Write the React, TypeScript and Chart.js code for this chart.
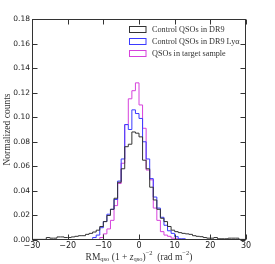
import React, { useEffect, useRef } from "react";
import { Chart, registerables } from "chart.js";

Chart.register(...registerables);

// Bin edges (rad m^-2), 1-unit bins from -30 to 30
const binEdges = [
  -30, -29, -28, -27, -26, -25, -24, -23, -22, -21, -20, -19, -18, -17, -16, -15,
  -14, -13, -12, -11, -10, -9, -8, -7, -6, -5, -4, -3, -2, -1, 0, 1, 2, 3, 4, 5,
  6, 7, 8, 9, 10, 11, 12, 13, 14, 15, 16, 17, 18, 19, 20, 21, 22, 23, 24, 25, 26,
  27, 28, 29, 30,
];

const controlDR9 = [
  0.0005, 0.0005, 0.0005, 0.0005, 0.0005,
  0.002, 0.0015, 0.0015, 0.0025, 0.0025, 0.002, 0.002, 0.0025, 0.003, 0.0035,
  0.0035, 0.0046, 0.0054, 0.0065, 0.008, 0.011, 0.015, 0.02, 0.025, 0.034,
  0.047, 0.058, 0.076, 0.078, 0.088,
  0.087, 0.084, 0.065, 0.058, 0.043, 0.0326, 0.025, 0.0177, 0.015, 0.011,
  0.008, 0.0068, 0.006, 0.0054, 0.005, 0.0046, 0.0035, 0.003, 0.0027, 0.002,
  0.0015, 0.0015, 0.002, 0.001, 0.001, 0.001, 0.0015, 0.0015, 0.0015, 0.0005,
];

const controlDR9Lya = [
  0, 0, 0, 0, 0, 0, 0, 0, 0, 0, 0, 0, 0, 0, 0, 0, 0,
  0.001, 0.002, 0.004, 0.01, 0.015, 0.021, 0.025, 0.033, 0.048, 0.066, 0.094,
  0.09, 0.106, 0.103, 0.099, 0.08, 0.066, 0.05, 0.035, 0.026, 0.0185, 0.012,
  0.0075, 0.0054, 0.0027, 0.001,
  0, 0, 0, 0, 0, 0, 0, 0, 0, 0, 0, 0, 0, 0, 0, 0, 0,
];

const targetSample = [
  0, 0, 0, 0, 0, 0, 0, 0, 0, 0, 0, 0, 0, 0, 0, 0, 0, 0, 0,
  0.001, 0.002, 0.005, 0.009, 0.016, 0.028, 0.046, 0.0625, 0.094, 0.115, 0.1216,
  0.128, 0.11, 0.091, 0.057, 0.049, 0.026, 0.016, 0.0068, 0.004, 0.003, 0.0015,
  0.001, 0.0005,
  0, 0, 0, 0, 0, 0, 0, 0, 0, 0, 0, 0, 0, 0, 0, 0, 0,
];

const seriesLabels = [
  "Control QSOs in DR9",
  "Control QSOs in DR9 Lyα",
  "QSOs in target sample",
];
const seriesColors = ["#333333", "#3a3aff", "#d642dc"];

const xTicks = [-30, -20, -10, 0, 10, 20, 30];
const yTicks = [0, 0.02, 0.04, 0.06, 0.08, 0.1, 0.12, 0.14, 0.16, 0.18];

function stepPoints(values: number[]) {
  let first = values.findIndex((v) => v !== 0);
  let last = values.length - 1;
  while (last >= 0 && values[last] === 0) last--;
  const pts: { x: number; y: number }[] = [];
  pts.push({ x: binEdges[first], y: 0 });
  for (let i = first; i <= last; i++) pts.push({ x: binEdges[i], y: values[i] });
  pts.push({ x: binEdges[last + 1], y: values[last] });
  pts.push({ x: binEdges[last + 1], y: 0 });
  return pts;
}

const SERIF = "'Liberation Serif', 'Times New Roman', serif";
const SANS = "'DejaVu Sans', sans-serif";

const framePlugin = {
  id: "frameTicks",
  afterDatasetsDraw(chart: any) {
    const { ctx, chartArea: a, scales } = chart;
    const xs = scales.x;
    const ys = scales.y;
    ctx.save();
    ctx.strokeStyle = "#333";
    ctx.lineWidth = 1;
    const L = Math.round(a.left) + 0.5;
    const R = Math.round(a.right) - 0.5;
    const T = Math.round(a.top) + 0.5;
    const B = Math.round(a.bottom) - 0.5;
    ctx.strokeRect(L, T, R - L, B - T);
    const tl = 5;
    ctx.beginPath();
    for (const v of xTicks) {
      const px = Math.round(xs.getPixelForValue(v)) + 0.5;
      ctx.moveTo(px, B);
      ctx.lineTo(px, B - tl);
      ctx.moveTo(px, T);
      ctx.lineTo(px, T + tl);
    }
    for (const v of yTicks) {
      const py = Math.round(ys.getPixelForValue(v)) + 0.5;
      ctx.moveTo(L, py);
      ctx.lineTo(L + tl, py);
      ctx.moveTo(R, py);
      ctx.lineTo(R - tl, py);
    }
    ctx.stroke();

    // Legend
    const boxX = 129.5;
    const boxW = 16.5;
    const boxH = 6;
    const rowY = [29.5, 41.5, 53.5];
    ctx.font = `8.2px ${SERIF}`;
    ctx.textBaseline = "middle";
    ctx.textAlign = "left";
    for (let i = 0; i < seriesLabels.length; i++) {
      ctx.strokeStyle = seriesColors[i];
      ctx.strokeRect(boxX, rowY[i] - boxH / 2, boxW, boxH);
      ctx.fillStyle = "#333";
      ctx.fillText(seriesLabels[i], 152, rowY[i] + 0.5);
    }

    // Y title
    ctx.save();
    ctx.translate(7, (a.top + a.bottom) / 2);
    ctx.rotate(-Math.PI / 2);
    ctx.font = `9.5px ${SERIF}`;
    ctx.textAlign = "center";
    ctx.textBaseline = "middle";
    ctx.fillStyle = "#333";
    ctx.fillText("Normalized counts", 0, 0);
    ctx.restore();

    // X title with sub/superscripts
    const base = 9.5;
    const small = 6.5;
    const parts = [
      { t: "RM", s: base, dy: 0, it: false },
      { t: "qso", s: small, dy: 2, it: false },
      { t: " (1 + ", s: base, dy: 0, it: false },
      { t: "z", s: base, dy: 0, it: true },
      { t: "qso", s: small, dy: 2, it: false },
      { t: ")", s: base, dy: 0, it: false },
      { t: "−2", s: small, dy: -3.5, it: false },
      { t: "  (rad m", s: base, dy: 0, it: false },
      { t: "−2", s: small, dy: -3.5, it: false },
      { t: ")", s: base, dy: 0, it: false },
    ];
    let total = 0;
    const widths: number[] = [];
    for (const p of parts) {
      ctx.font = `${p.it ? "italic " : ""}${p.s}px ${SERIF}`;
      const w = ctx.measureText(p.t).width;
      widths.push(w);
      total += w;
    }
    let x = (a.left + a.right) / 2 - total / 2;
    const y = 257;
    ctx.textAlign = "left";
    ctx.textBaseline = "middle";
    ctx.fillStyle = "#333";
    parts.forEach((p, i) => {
      ctx.font = `${p.it ? "italic " : ""}${p.s}px ${SERIF}`;
      ctx.fillText(p.t, x, y + p.dy);
      x += widths[i];
    });
    ctx.restore();
  },
};

export default function App() {
  const ref = useRef<HTMLCanvasElement | null>(null);
  useEffect(() => {
    if (!ref.current) return;
    const seriesValues = [controlDR9, controlDR9Lya, targetSample];
    const chart = new Chart(ref.current, {
      type: "line",
      data: {
        datasets: seriesValues.map((vals, i) => ({
          label: seriesLabels[i],
          data: stepPoints(vals),
          borderColor: seriesColors[i],
          borderWidth: 1,
          pointRadius: 0,
          stepped: "after" as const,
          fill: false,
          tension: 0,
        })),
      },
      options: {
        animation: false,
        responsive: false,
        maintainAspectRatio: false,
        layout: { padding: { left: 0, top: 19, right: 29, bottom: 0 } },
        plugins: { legend: { display: false }, tooltip: { enabled: false } },
        scales: {
          x: {
            type: "linear",
            min: -30,
            max: 30,
            afterFit: (s: any) => {
              s.height = 24;
            },
            afterBuildTicks: (s: any) => {
              s.ticks = xTicks.map((v) => ({ value: v }));
            },
            grid: { display: false, drawTicks: false },
            border: { display: false },
            ticks: {
              padding: 1,
              color: "#222",
              font: { family: SANS, size: 8 },
              callback: (v: any) => (Number(v) < 0 ? "−" + Math.abs(Number(v)) : String(v)),
              maxRotation: 0,
              autoSkip: false,
            },
          },
          y: {
            type: "linear",
            min: 0,
            max: 0.18,
            afterFit: (s: any) => {
              s.width = 32;
            },
            afterBuildTicks: (s: any) => {
              s.ticks = yTicks.map((v) => ({ value: v }));
            },
            grid: { display: false, drawTicks: false },
            border: { display: false },
            ticks: {
              padding: 2,
              color: "#222",
              font: { family: SANS, size: 7.5 },
              callback: (v: any) => Number(v).toFixed(2),
              autoSkip: false,
            },
          },
        },
      },
      plugins: [framePlugin],
    });
    return () => chart.destroy();
  }, []);
  return (
    <div style={{ position: "absolute", left: 0, top: 0, width: 275, height: 264 }}>
      <canvas ref={ref} width={275} height={264} style={{ width: 275, height: 264 }} />
    </div>
  );
}
